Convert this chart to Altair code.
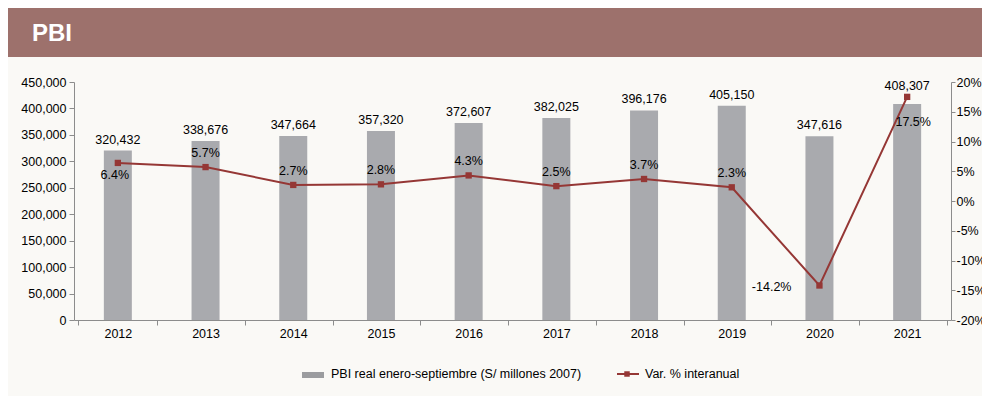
import altair as alt
import pandas as pd

years = ["2012", "2013", "2014", "2015", "2016", "2017", "2018", "2019", "2020", "2021"]
pbi = [320432, 338676, 347664, 357320, 372607, 382025, 396176, 405150, 347616, 408307]
var_pct = [6.4, 5.7, 2.7, 2.8, 4.3, 2.5, 3.7, 2.3, -14.2, 17.5]

df = pd.DataFrame({"year": years, "pbi": pbi, "var": var_pct})
df["pbi_lbl"] = [f"{v:,}" for v in pbi]
df["var_lbl"] = [f"{v:.1f}%" for v in var_pct]

FONT = "Liberation Sans"
BAR = "#A9AAAE"
LINE = "#953735"
HEAD = "#9D716C"
BG = "#FAF9F6"
AXC = "#8C8C8C"
FS = 12.5

base = alt.Chart(df)
xenc = alt.X("year:N", title=None,
             axis=alt.Axis(labelAngle=0, tickBand="extent", domainColor=AXC, tickColor=AXC,
                           tickSize=5, labelFontSize=FS, labelColor="#000", labelFont=FONT,
                           labelPadding=2))
yL = alt.Scale(domain=[0, 450000], nice=False)
yR = alt.Scale(domain=[-20, 20], nice=False)
axL = alt.Axis(values=list(range(0, 450001, 50000)), labelExpr="format(datum.value, ',.0f')",
               grid=False, title=None,
               labelOverlap=False, domainColor=AXC, tickColor=AXC, tickSize=5,
               labelFontSize=FS, labelColor="#000", labelFont=FONT, labelPadding=3)
axR = alt.Axis(orient="right", values=list(range(-20, 21, 5)), labelExpr="datum.value + '%'",
               grid=False, title=None, labelOverlap=False, domainColor=AXC, tickColor=AXC, tickSize=4,
               labelFontSize=FS, labelColor="#000", labelFont=FONT, labelPadding=1)
yl = alt.Y("pbi:Q", scale=yL, axis=axL, title=None)
yv = alt.Y("var:Q", scale=yR, axis=axR, title=None)

bars = base.mark_bar(size=28, color=BAR).encode(x=xenc, y=yl)
txt_kw = dict(fontSize=FS, font=FONT, color="#000", baseline="alphabetic")
bar_txt = base.transform_filter("datum.year != '2021'").mark_text(dy=-7, **txt_kw).encode(
    x="year:N", y=yl, text="pbi_lbl:N")
bar_txt21 = base.transform_filter("datum.year == '2021'").mark_text(dy=-14, **txt_kw).encode(
    x="year:N", y=yl, text="pbi_lbl:N")
left = alt.layer(bars, bar_txt, bar_txt21)

line = base.mark_line(color=LINE, strokeWidth=2).encode(x="year:N", y=yv)
pts = base.mark_point(shape="square", filled=True, size=40, color=LINE, opacity=1).encode(
    x="year:N", y=yv)
above = base.transform_filter("indexof(['2012','2020','2021'], datum.year) < 0").mark_text(
    dy=-10, **txt_kw).encode(x="year:N", y=yv, text="var_lbl:N")
lbl12 = base.transform_filter("datum.year == '2012'").mark_text(
    dy=16, dx=-3, **txt_kw).encode(x="year:N", y=yv, text="var_lbl:N")
lbl21 = base.transform_filter("datum.year == '2021'").mark_text(
    dy=29, dx=6, **txt_kw).encode(x="year:N", y=yv, text="var_lbl:N")
lbl20 = base.transform_filter("datum.year == '2020'").mark_text(
    align="right", dx=-28, dy=6, **txt_kw).encode(x="year:N", y=yv, text="var_lbl:N")
right = alt.layer(line, pts, above, lbl12, lbl21, lbl20)

one = alt.Data(values=[{"a": 1}])
header = alt.Chart(one).mark_rect(color=HEAD).encode(
    x=alt.value(-67), x2=alt.value(930), y=alt.value(-74), y2=alt.value(-25))
header_t = alt.Chart(one).mark_text(text="PBI", color="white", fontSize=24, fontWeight="bold",
                                    font=FONT, align="left", baseline="middle").encode(
    x=alt.value(-42), y=alt.value(-48))
leg_bar = alt.Chart(one).mark_rect(color="#9B9C9F").encode(
    x=alt.value(228), x2=alt.value(250), y=alt.value(290), y2=alt.value(296))
leg_t1 = alt.Chart(one).mark_text(text="PBI real enero-septiembre (S/ millones 2007)", fontSize=FS,
                                  font=FONT, align="left", baseline="middle", color="#000").encode(
    x=alt.value(257), y=alt.value(292))
leg_line = alt.Chart(one).mark_rule(color=LINE, strokeWidth=2).encode(
    x=alt.value(543), x2=alt.value(565), y=alt.value(292))
leg_pt = alt.Chart(one).mark_point(shape="square", filled=True, size=30, color=LINE, opacity=1).encode(
    x=alt.value(553), y=alt.value(292))
leg_t2 = alt.Chart(one).mark_text(text="Var. % interanual", fontSize=FS, font=FONT, align="left",
                                  baseline="middle", color="#000").encode(
    x=alt.value(571), y=alt.value(292))

chart = alt.layer(
    alt.layer(left, right).resolve_scale(y="independent"),
    header, header_t, leg_bar, leg_t1, leg_line, leg_pt, leg_t2
).properties(
    width=877, height=238,
    autosize=alt.AutoSizeParams(type="none"),
    padding={"left": 66, "top": 74, "right": 31, "bottom": 76},
    background=BG,
).configure_view(stroke=None)

chart.save("out.html", embed_options={"renderer": "svg", "actions": False})
